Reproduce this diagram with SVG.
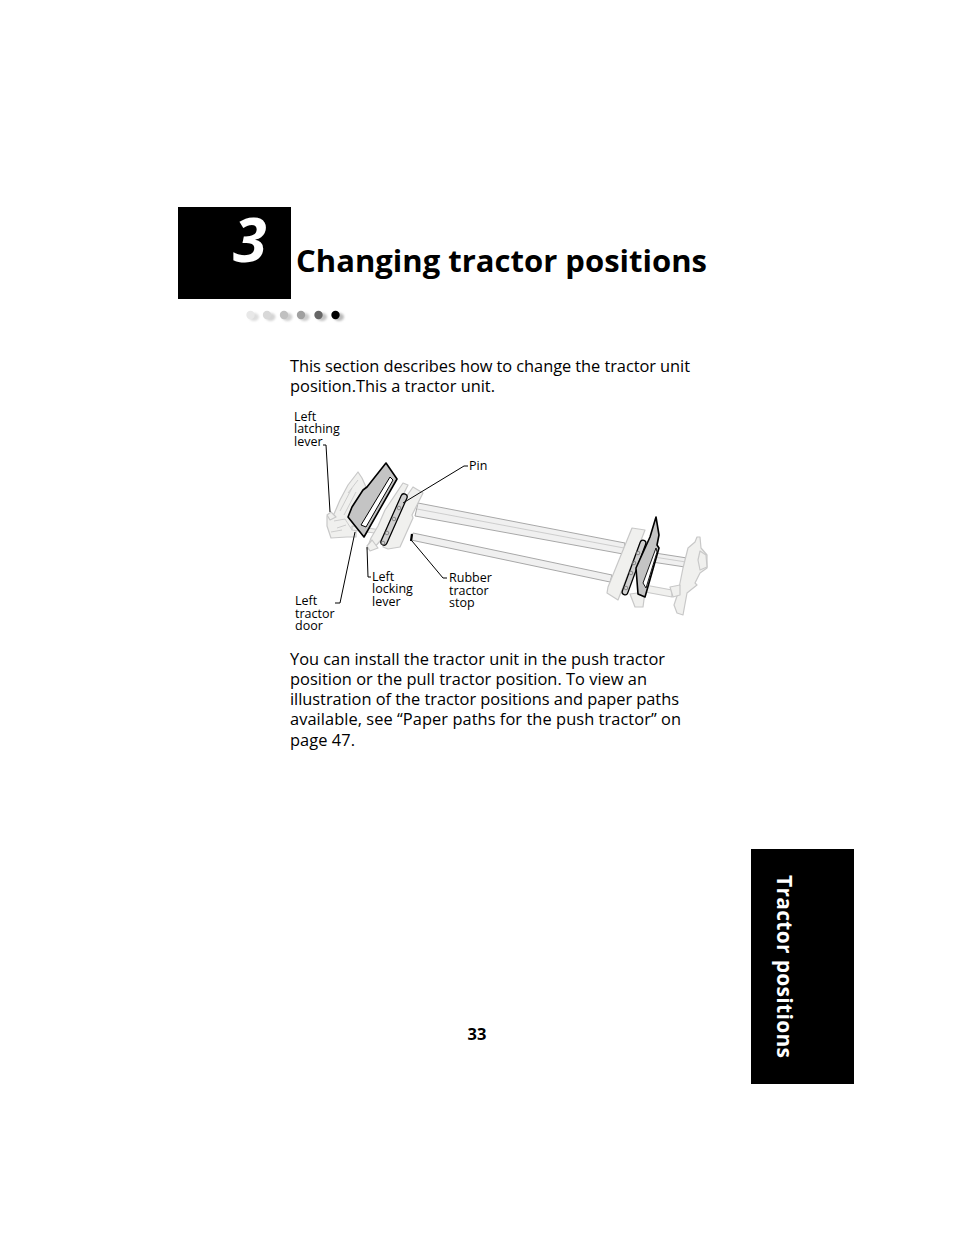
<svg xmlns="http://www.w3.org/2000/svg" width="954" height="1235" viewBox="0 0 954 1235">
<style>
text{font-family:"Open Sans","Noto Sans","Liberation Sans",sans-serif;fill:#000}
.b{font-size:16.4px}
.l{font-size:12.5px}
.ln{fill:none;stroke:#000;stroke-width:1}
.p{fill:#f0f0ee;stroke:#c8c8c8;stroke-width:1.2;stroke-linejoin:round}
.r{fill:#f0f0f0;stroke:#a8a8a8;stroke-width:1}
.d{fill:#c4c4c4;stroke:#000;stroke-width:1.6;stroke-linejoin:round}
.h{fill:none;stroke:#c4c4c4;stroke-width:.8}
.hk{fill:none;stroke:#777;stroke-width:.8}
.bo{fill:none;stroke:#000;stroke-linecap:round}
.bi{fill:none;stroke:#cfcfcf;stroke-linecap:round}
</style>
<defs><filter id="bl" x="-50%" y="-50%" width="200%" height="200%"><feGaussianBlur stdDeviation="1.2"/></filter></defs>
<rect width="954" height="1235" fill="#fff"/>
<g id="chapter-tab"><rect x="178" y="207" width="113" height="92" fill="#000"/><text x="233" y="262" font-size="61" font-weight="700" font-style="italic" style="fill:#fff">3</text></g>
<text id="title" x="296" y="272" font-size="31" font-weight="700" textLength="411">Changing tractor positions</text>
<g id="dots">
<g filter="url(#bl)"><ellipse cx="254" cy="317" rx="5" ry="4" fill="#ddd"/><ellipse cx="270.500" cy="317" rx="5" ry="4" fill="#d4d4d4"/><ellipse cx="287.500" cy="317" rx="5" ry="4" fill="#d0d0d0"/><ellipse cx="304.500" cy="317" rx="5" ry="4" fill="#ccc"/><ellipse cx="322" cy="317" rx="5" ry="4" fill="#c4c4c4"/><ellipse cx="339" cy="317" rx="5" ry="4" fill="#bbb"/></g>
<g filter="url(#bl)" style="filter:none"><circle cx="250.500" cy="315" r="4.200" fill="#e8e8e8"/><circle cx="267" cy="315" r="4.200" fill="#d8d8d8"/><circle cx="284" cy="315" r="4.200" fill="#c0c0c0"/><circle cx="301" cy="315" r="4.200" fill="#a0a0a0"/><circle cx="318.500" cy="315" r="4.200" fill="#666"/><circle cx="335.500" cy="315" r="4.200" fill="#000"/></g>
</g>
<text class="b" x="290" y="372" textLength="400">This section describes how to change the tractor unit</text>
<text class="b" x="290" y="392" textLength="205">position.This a tractor unit.</text>
<g id="tractor-unit">
<path class="r" d="M418 503L625 543L623 554L415 516Z"/><path class="h" d="M417 509L624 548"/>
<path class="r" d="M413 533L612 575L610 582L411 540Z"/>
<path class="r" d="M655 553L687 558L685 567L652 562Z"/><path class="h" d="M654 557L686 562"/>
<path class="p" d="M645 585L672 590L672 597L645 592Z"/>
<path class="p" d="M697 537L700 537L701 548L707 555L707 568L700 573L695 583L697 585L687 593L683 615L677 613L674 605L678 593L683 568L688 548L695 542Z"/>
<path class="p" d="M670 587L680 585L680 595L673 597Z"/>
<path class="p" d="M700 551L706 555L707 567L700 570L698 560Z"/>
<path class="p" d="M632 528L645 530L618 600L607 593L608 587Z"/>
<path class="p" d="M630 594L645 592L643 607L635 607Z"/>
<path class="bo" stroke-width="7" d="M643 543L625 592"/><path class="bi" stroke-width="4.500" d="M643 543L625 592"/>
<circle class="hk" cx="638" cy="553" r="1.800"/><circle class="hk" cx="634" cy="563" r="1.800"/><circle class="hk" cx="631" cy="573" r="1.800"/><circle class="hk" cx="626" cy="588" r="1.800"/>
<path class="d" d="M656 517L659 535L657 545L659 548L645 597L638 594L636 568L650 537Z"/>
<path d="M656 548L657 552L646 588L643 583Z" fill="#fff" stroke="#000" stroke-width=".9"/>
<path class="p" d="M334 514L340 500L348 485L358 472L362 478L366 487L352 508L349 517L356 528L356 537L347 537L331 538L327 526L327 516Z"/>
<path class="h" d="M340 511L352 488M344 515L356 492M334 521L345 519L352 530M337 528L346 525M331 532L342 530M348 493L358 480"/>
<path class="p" d="M327 515L331 512L336 517L330 520Z"/>
<path class="p" d="M352 526L382 530L382 534L352 530Z"/>
<path class="p" d="M403 483L408 485L392 517L387 528L381 540L373 549L367 549L371 538L378 526L385 510Z"/>
<path class="p" d="M367 546L372 540L378 548L370 551Z"/>
<path class="p" d="M413 487L423 493L412 515L413 518L400 547L388 549L383 547L395 513Z"/>
<path d="M412 534L411 541" stroke="#000" stroke-width="2.200" fill="none"/>
<path class="bo" stroke-width="7.500" d="M404 497L384 542"/><path class="bi" stroke-width="5" d="M404 497L384 542"/>
<circle class="hk" cx="399" cy="508" r="1.800"/><circle class="hk" cx="394" cy="519" r="1.800"/><circle class="hk" cx="387" cy="533" r="1.800"/><circle class="hk" cx="383" cy="543" r="1.800"/>
<path class="d" d="M386 463L397 479L364 537L348 517L352 507L363 490L367 487Z"/>
<path d="M390 477L393 480L366 527L361 525Z" fill="#fff" stroke="#000" stroke-width="1"/>
</g>
<g id="connectors">
<path class="ln" d="M323 445H326L330 512"/>
<path class="ln" d="M468 466H464L403 503"/>
<path class="ln" d="M335 603H340L355 532"/>
<path class="ln" d="M371 577H368L367 547"/>
<path class="ln" d="M447 578H443L412 541"/>
</g>
<g id="label-latching"><text class="l"><tspan x="294" y="421">Left</tspan><tspan x="294" y="433">latching</tspan><tspan x="294" y="446">lever</tspan></text></g>
<g id="label-pin"><text class="l" x="469" y="470">Pin</text></g>
<g id="label-door"><text class="l"><tspan x="295" y="605">Left</tspan><tspan x="295" y="618">tractor</tspan><tspan x="295" y="630">door</tspan></text></g>
<g id="label-locking"><text class="l"><tspan x="372" y="581">Left</tspan><tspan x="372" y="593">locking</tspan><tspan x="372" y="606">lever</tspan></text></g>
<g id="label-stop"><text class="l"><tspan x="449" y="582">Rubber</tspan><tspan x="449" y="595">tractor</tspan><tspan x="449" y="607">stop</tspan></text></g>
<text class="b" x="290" y="665" textLength="375">You can install the tractor unit in the push tractor</text>
<text class="b" x="290" y="685" textLength="357">position or the pull tractor position. To view an</text>
<text class="b" x="290" y="705" textLength="389">illustration of the tractor positions and paper paths</text>
<text class="b" x="290" y="725" textLength="391">available, see “Paper paths for the push tractor” on</text>
<text class="b" x="290" y="746" textLength="65">page 47.</text>
<text x="477" y="1040" font-size="16.500" font-weight="700" text-anchor="middle">33</text>
<g id="side-tab"><rect x="751" y="849" width="103" height="235" fill="#000"/><text transform="translate(777 875) rotate(90)" font-size="21" font-weight="700" textLength="183" style="fill:#fff">Tractor positions</text></g>
</svg>
